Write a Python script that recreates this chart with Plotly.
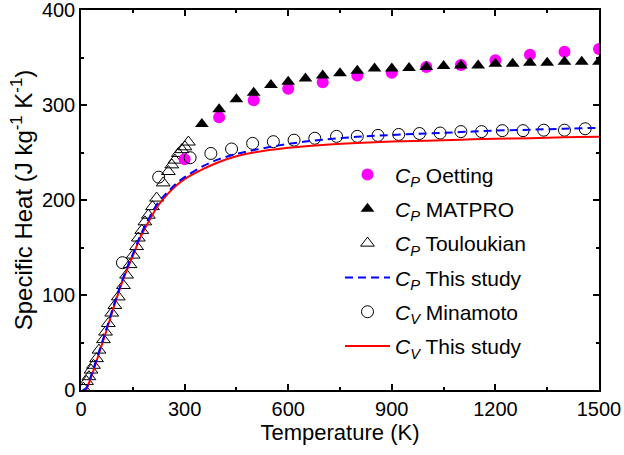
import plotly.graph_objects as go

# Oetting C_P
oet_T = [300, 400, 500, 600, 700, 800, 900, 1000, 1100, 1200, 1300, 1400, 1500]
oet_C = [243, 287, 305, 317, 324, 331, 334, 340, 342, 347, 353, 356, 359]

# MATPRO C_P
mat_T = [350, 400, 450, 500, 550, 600, 650, 700, 750, 800, 850, 900, 950, 1000,
         1050, 1100, 1150, 1200, 1250, 1300, 1350, 1400, 1450, 1500]
mat_C = [280, 295.5, 306, 313, 321, 324.5, 328, 331, 333.5, 336, 338.5, 338.5, 339,
         340, 341, 341.5, 341.5, 343.5, 343.5, 344.5, 344.5, 345.5, 345.5, 345.5]

# Touloukian C_P
tou_T = [7, 16, 23, 29, 36, 45, 52, 65, 71, 79, 89, 98, 108, 123, 132, 142, 151,
         161, 166, 176, 185, 195, 207, 219, 238, 253, 263, 272, 282, 292, 301, 311]
tou_C = [2, 9, 14, 21, 26, 33, 42, 53, 61, 70, 81, 89, 98, 110, 121, 132, 142,
         151, 160, 168, 177, 184, 193, 202, 218, 230, 237, 242, 249, 253, 256, 261]

# Minamoto C_V
min_T = [120, 225, 316, 376, 436, 497, 557, 617, 677, 740, 800, 860, 920, 980,
         1040, 1100, 1160, 1220, 1280, 1340, 1400, 1460]
min_C = [134, 224, 244.5, 249, 253.7, 259.6, 261.4, 263, 265, 267, 267, 268, 269,
         270, 270.5, 272, 272, 273, 273, 273.5, 273.5, 275]

# This study C_P (blue dashed)
cp_T = [5, 15, 30, 50, 75, 100, 125, 150, 175, 200, 225, 250, 275, 300, 350, 400,
        450, 500, 550, 600, 650, 700, 800, 900, 1000, 1100, 1200, 1300, 1400, 1500]
cp_C = [0, 2, 16, 38, 66, 95, 121, 143, 165, 183, 198, 208, 217, 224, 235, 243,
        248.5, 252.5, 256, 259, 261.5, 263.5, 266.5, 268.5, 270, 271.5, 273, 274, 275, 276]

# This study C_V (red solid)
cv_T = [15, 30, 50, 75, 100, 125, 150, 175, 200, 225, 250, 275, 300, 350, 400, 450,
        500, 600, 700, 800, 900, 1000, 1100, 1200, 1300, 1400, 1500]
cv_C = [0, 14, 36, 64, 93, 119, 141, 163, 180, 195, 206, 215, 222, 232, 240, 246,
        250, 255, 258, 260, 261.5, 262.5, 263.5, 264.5, 265, 266, 266.5]

x_ticks = [0, 300, 600, 900, 1200, 1500]
y_ticks = [0, 100, 200, 300, 400]

FONT = "Liberation Sans, Arial, sans-serif"

fig = go.Figure()
fig.add_trace(go.Scatter(x=tou_T, y=tou_C, mode="markers", legendgroup="c",
                         name="<i>C</i><sub><i>P</i></sub> Touloukian", legendrank=3,
                         marker=dict(symbol="triangle-up-open", size=12, color="black",
                                     line=dict(width=1, color="black"))))
fig.add_trace(go.Scatter(x=oet_T, y=oet_C, mode="markers", legendgroup="a",
                         name="<i>C</i><sub><i>P</i></sub> Oetting", legendrank=1,
                         marker=dict(symbol="circle", size=12, color="#FF00FF")))
fig.add_trace(go.Scatter(x=mat_T, y=mat_C, mode="markers", legendgroup="b",
                         name="<i>C</i><sub><i>P</i></sub> MATPRO", legendrank=2,
                         marker=dict(symbol="triangle-up", size=12, color="black")))
fig.add_trace(go.Scatter(x=min_T, y=min_C, mode="markers", legendgroup="e",
                         name="<i>C</i><sub><i>V</i></sub> Minamoto", legendrank=5,
                         marker=dict(symbol="circle-open", size=12, color="black",
                                     line=dict(width=1, color="black"))))
fig.add_trace(go.Scatter(x=cv_T, y=cv_C, mode="lines", line_shape="spline", legendgroup="f",
                         name="<i>C</i><sub><i>V</i></sub> This study", legendrank=6,
                         line=dict(color="#FF0000", width=2)))
fig.add_trace(go.Scatter(x=cp_T, y=cp_C, mode="lines", line_shape="spline", legendgroup="d",
                         name="<i>C</i><sub><i>P</i></sub> This study", legendrank=4,
                         line=dict(color="#0000FF", width=2, dash="8px,5px")))

axis_common = dict(showline=True, linecolor="black", linewidth=1.5, mirror="ticks",
                   ticks="inside", ticklen=6, tickwidth=1.5, tickcolor="black",
                   showgrid=False, zeroline=False, automargin=False,
                   ticklabeloverflow="allow",
                   tickfont=dict(family=FONT, size=20, color="black"))

fig.update_xaxes(range=[0, 1500], tickvals=x_ticks,
                 title=dict(text="Temperature (K)", standoff=2,
                            font=dict(family=FONT, size=22, color="black")),
                 minor=dict(dtick=150, ticks="inside", ticklen=3, tickcolor="black", tickwidth=1.5),
                 **axis_common)
fig.update_yaxes(range=[0, 400], tickvals=y_ticks,
                 title=dict(text="Specific Heat (J kg<sup>-1</sup> K<sup>-1</sup>)", standoff=2,
                            font=dict(family=FONT, size=24, color="black")),
                 minor=dict(dtick=50, ticks="inside", ticklen=3, tickcolor="black", tickwidth=1.5),
                 **axis_common)

fig.update_layout(width=624, height=455, plot_bgcolor="white", paper_bgcolor="white",
                  margin=dict(l=81, r=25, t=10, b=65),
                  font=dict(family=FONT, color="black"),
                  legend=dict(x=0.5, y=0.62, xanchor="left", yanchor="top",
                              bgcolor="rgba(0,0,0,0)", font=dict(family=FONT, size=21),
                              tracegroupgap=4, itemwidth=45))

fig.write_html("out.html", config={"displayModeBar": False},
               post_script="document.body.style.margin='0';")
